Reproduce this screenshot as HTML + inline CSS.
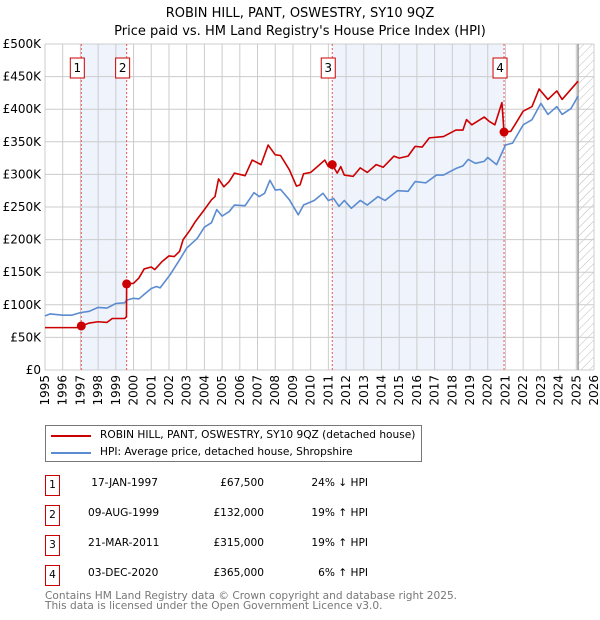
<!DOCTYPE html>
<html><head><meta charset="utf-8"><style>
body{margin:0;background:#fff;font-family:"DejaVu Sans","Liberation Sans",sans-serif;}
#wrap{position:relative;width:600px;height:620px;overflow:hidden}
.t{position:absolute;font-size:10.6px;color:#000;white-space:nowrap}
.nb{position:absolute;width:13px;height:19px;border:1px solid #c00;background:#fff;font-size:10.6px;text-align:center;line-height:19px}
</style></head><body><div id="wrap">
<svg id="chart" width="600" height="420" style="position:absolute;left:0;top:0">
<defs><pattern id="hatch" width="6" height="6" patternUnits="userSpaceOnUse" patternTransform="rotate(45)"><line x1="0" y1="0" x2="0" y2="6" stroke="#bbb" stroke-width="1"/></pattern></defs>
<text x="300" y="17" text-anchor="middle" font-size="13" font-family="DejaVu Sans, sans-serif">ROBIN HILL, PANT, OSWESTRY, SY10 9QZ</text>
<text x="300" y="35" text-anchor="middle" font-size="13" font-family="DejaVu Sans, sans-serif">Price paid vs. HM Land Registry's House Price Index (HPI)</text>
<g id="g"></g>
</svg>
<div style="position:absolute;left:45px;top:425px;width:375px;height:35px;border:1px solid #777">
 <div style="position:absolute;left:5px;top:9px;width:40px;border-top:2px solid #c00"></div>
 <div class="t" style="left:54px;top:3px">ROBIN HILL, PANT, OSWESTRY, SY10 9QZ (detached house)</div>
 <div style="position:absolute;left:5px;top:26px;width:40px;border-top:2px solid #5b8bd0"></div>
 <div class="t" style="left:54px;top:20px">HPI: Average price, detached house, Shropshire</div>
</div>
<div id="tbl"></div>
<div class="t" style="left:45px;top:590px;color:#777">Contains HM Land Registry data © Crown copyright and database right 2025.</div>
<div class="t" style="left:45px;top:600px;color:#777">This data is licensed under the Open Government Licence v3.0.</div>
</div>
<script>
const hpiYears=[1995.0,1995.3,1996,1996.5,1997,1997.5,1998,1998.5,1999,1999.5,1999.6,2000,2000.3,2000.6,2001,2001.3,2001.5,2002.06,2002.6,2003.0,2003.6,2004.0,2004.4,2004.7,2005.0,2005.4,2005.7,2006.3,2006.8,2007.1,2007.4,2007.7,2008.0,2008.3,2008.8,2009.3,2009.6,2010.2,2010.7,2011.0,2011.3,2011.6,2011.9,2012.3,2012.8,2013.2,2013.8,2014.2,2014.9,2015.5,2015.9,2016.5,2017.1,2017.5,2018.2,2018.6,2018.9,2019.3,2019.8,2020.0,2020.5,2021.0,2021.4,2022.0,2022.5,2023.0,2023.4,2023.9,2024.2,2024.7,2025.1];
const hpiValues=[83,86,84,84,88,90,96,95,102,103,107,110,109,116,125,128,126,146,169,187,202,219,226,246,236,243,253,252,272,266,271,291,276,277,261,238,253,260,271,260,263,251,260,248,260,253,266,260,275,274,289,287,299,299,309,313,323,317,320,326,315,345,348,376,384,409,392,404,392,401,420];
const propYears=[1995,1996.9,1997.05,1997.5,1998,1998.5,1998.8,1999.5,1999.6,1999.61,2000,2000.3,2000.6,2001,2001.2,2001.6,2002,2002.3,2002.6,2002.8,2003.2,2003.5,2004,2004.4,2004.6,2004.8,2005.1,2005.4,2005.7,2006.3,2006.7,2007.2,2007.6,2008,2008.3,2008.8,2009.2,2009.4,2009.6,2010.0,2010.3,2010.8,2011.0,2011.22,2011.5,2011.7,2011.9,2012.4,2012.8,2013.2,2013.7,2014.1,2014.7,2015.0,2015.5,2015.9,2016.3,2016.7,2017.5,2018.2,2018.6,2018.8,2019.1,2019.8,2020.1,2020.4,2020.8,2020.92,2021.3,2021.6,2022.0,2022.5,2022.9,2023.4,2023.9,2024.2,2025.1];
const propValues=[65,65,67.5,72,74,73,79,79,82,132,133,141,155,158,154,166,175,174,182,200,215,228,246,261,266,293,281,289,302,298,322,315,345,330,329,307,282,284,301,303,310,322,312,315,302,312,299,297,310,303,315,311,328,325,328,343,342,356,358,368,368,384,376,388,381,376,410,365,366,379,397,404,431,415,428,415,443];
const saleYears=[1997.05,1999.61,2011.22,2020.92];
const saleValues=[67.5,132,315,365];
const saleLabels=["1","2","3","4"];
const saleDates=["17-JAN-1997","09-AUG-1999","21-MAR-2011","03-DEC-2020"];
const salePrices=["£67,500","£132,000","£315,000","£365,000"];
const saleHpi=["24% ↓ HPI","19% ↑ HPI","19% ↑ HPI","6% ↑ HPI"];
const yTicks=[0,50,100,150,200,250,300,350,400,450,500];
const yTickLabels=["£0","£50K","£100K","£150K","£200K","£250K","£300K","£350K","£400K","£450K","£500K"];
const xTicks=[1995,1996,1997,1998,1999,2000,2001,2002,2003,2004,2005,2006,2007,2008,2009,2010,2011,2012,2013,2014,2015,2016,2017,2018,2019,2020,2021,2022,2023,2024,2025,2026];
const X0=45,X1=594,Y0=370,Y1=44;
const xs=y=>X0+(y-1995)/31*(X1-X0);
const ys=v=>Y0-v/500*(Y0-Y1);
const NS="http://www.w3.org/2000/svg";
const g=document.getElementById('g');
function mk(t,a,p){const e=document.createElementNS(NS,t);for(const k in a)e.setAttribute(k,a[k]);(p||g).appendChild(e);return e;}
for(const [a,b] of [[0,1],[2,3]]){const r=mk('rect',{x:xs(saleYears[a]),y:Y1,width:xs(saleYears[b])-xs(saleYears[a]),height:Y0-Y1,fill:'#eef3fc'});

}
const h=mk('rect',{x:xs(2025.1),y:Y1,width:X1-xs(2025.1),height:Y0-Y1,fill:'url(#hatch)'});


yTicks.forEach((v,i)=>{mk('line',{x1:X0,x2:X1,y1:ys(v),y2:ys(v),stroke:'#ccc'});
const t=mk('text',{x:X0-4,y:ys(v)+4,'text-anchor':'end','font-size':12,'font-family':'DejaVu Sans, sans-serif'});t.textContent=yTickLabels[i];

});
xTicks.forEach(y=>{mk('line',{x1:xs(y),x2:xs(y),y1:Y1,y2:Y0,stroke:'#ccc'});
const t=mk('text',{x:0,y:0,'text-anchor':'end','font-size':12,'font-family':'DejaVu Sans, sans-serif',transform:`translate(${xs(y)+4},${Y0+5}) rotate(-90)`});t.textContent=y;

});
mk('line',{x1:xs(2025.1),x2:xs(2025.1),y1:Y1,y2:Y0,stroke:'#999','stroke-width':1.5});
saleYears.forEach((y,i)=>{const l=mk('line',{x1:xs(y),x2:xs(y),y1:Y1,y2:Y0,stroke:'#e55','stroke-dasharray':'2,2'});


mk('rect',{x:xs(y)-11,y:58,width:14,height:20,fill:'#fff',stroke:'#c00'});
const t=mk('text',{x:xs(y)-4,y:72,'text-anchor':'middle','font-size':12,'font-family':'DejaVu Sans, sans-serif'});t.textContent=saleLabels[i];

});
const line=(X,V,c,n)=>{const p=mk('polyline',{points:X.map((y,i)=>xs(y)+','+ys(V[i])).join(' '),fill:'none',stroke:c,'stroke-width':1.6,'stroke-linejoin':'round'});

};
line(hpiYears,hpiValues,'#5b8bd0','hpi-line');
line(propYears,propValues,'#c00','property-price-line');
saleYears.forEach((y,i)=>{const c=mk('circle',{cx:xs(y),cy:ys(saleValues[i]),r:4.5,fill:'#c00'});

});
const tb=document.getElementById('tbl');
saleLabels.forEach((s,i)=>{const top=483+i*30;
const row=document.createElement('div');


row.innerHTML=`<div class="nb" style="left:45px;top:${top-8}px">${s}</div>
<div class="t" style="left:88px;width:70px;text-align:right;top:${top-6}px">${saleDates[i]}</div>
<div class="t" style="left:180px;width:84px;text-align:right;top:${top-6}px">${salePrices[i]}</div>
<div class="t" style="left:280px;width:88px;text-align:right;top:${top-6}px">${saleHpi[i]}</div>`;
tb.appendChild(row);});
</script>
</body></html>
